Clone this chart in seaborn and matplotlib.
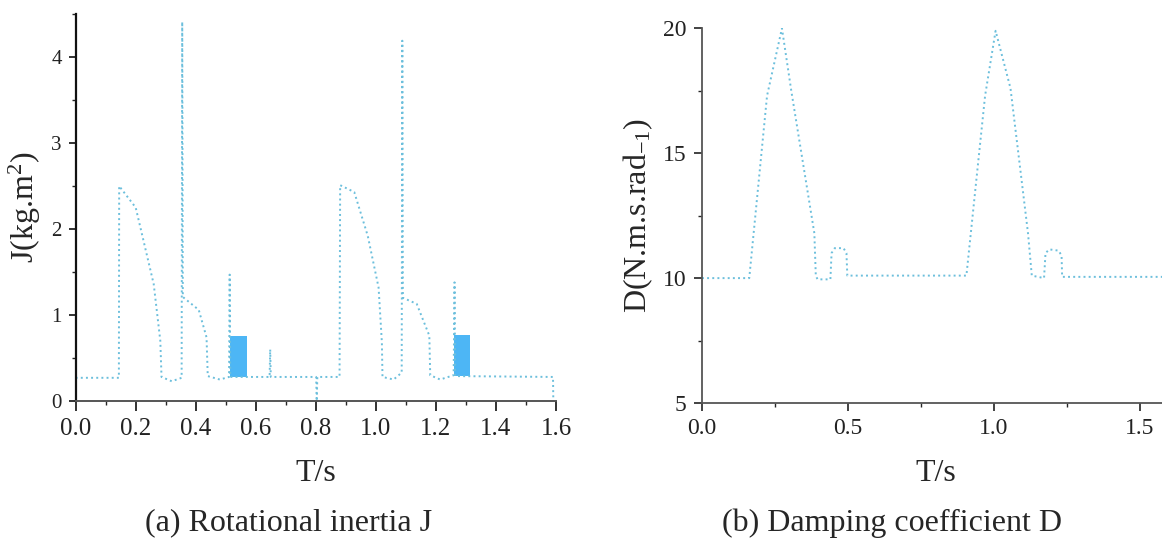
import numpy as np
import pandas as pd
import matplotlib
matplotlib.use('Agg')
import matplotlib.pyplot as plt
import seaborn as sns

# J(t) trace
t_J = [0.0, 0.144, 0.145, 0.200, 0.260, 0.282, 0.286, 0.320, 0.353, 0.355, 0.357,
       0.410, 0.436, 0.440, 0.480, 0.511, 0.513, 0.515, 0.646, 0.648, 0.650, 0.801,
       0.803, 0.805, 0.879, 0.881, 0.928, 0.973, 1.009, 1.020, 1.022, 1.059, 1.086,
       1.088, 1.090, 1.136, 1.178, 1.181, 1.214, 1.259, 1.262, 1.264, 1.590, 1.591]
J = [0.27, 0.27, 2.50, 2.25, 1.36, 0.70, 0.28, 0.23, 0.27, 4.41, 1.21,
     1.06, 0.74, 0.29, 0.25, 0.28, 1.47, 0.28, 0.28, 0.60, 0.28, 0.28,
     0.00, 0.28, 0.28, 2.51, 2.43, 1.92, 1.32, 0.68, 0.28, 0.25, 0.33,
     4.19, 1.20, 1.13, 0.76, 0.30, 0.25, 0.30, 1.38, 0.29, 0.28, 0.00]

# filled blocks in panel (a)
blk_left = [0.515, 1.261]
blk_right = [0.572, 1.314]
blk_bottom = [0.275, 0.293]
blk_top = [0.760, 0.773]

# D(t) trace
t_D = [0.0, 0.162, 0.223, 0.274, 0.306, 0.385, 0.390, 0.396, 0.440, 0.444, 0.455,
       0.485, 0.495, 0.498, 0.906, 0.970, 1.006, 1.057, 1.117, 1.130, 1.172, 1.177,
       1.190, 1.222, 1.232, 1.234, 1.600]
D = [10.0, 10.0, 17.3, 20.0, 17.5, 11.8, 10.1, 9.95, 9.95, 11.0, 11.2,
     11.2, 11.0, 10.1, 10.1, 17.3, 19.9, 17.6, 11.8, 10.1, 10.0, 11.0,
     11.15, 11.1, 10.9, 10.05, 10.05]

df_J = pd.DataFrame({'t': t_J, 'J': J})
df_D = pd.DataFrame({'t': t_D, 'D': D})

sns.set_style('ticks')
plt.rcParams['font.family'] = ['Liberation Serif', 'DejaVu Serif']
plt.rcParams['mathtext.fontset'] = 'custom'
plt.rcParams['mathtext.rm'] = 'Liberation Serif'
plt.rcParams['mathtext.it'] = 'Liberation Serif:italic'

line_col = '#6cbfdc'
fill_col = '#4db6f5'

fig = plt.figure(figsize=(11.62, 5.38), dpi=100)
ax1 = fig.add_axes([0.0651, 0.2546, 0.4134, 0.7193])
ax2 = fig.add_axes([0.6041, 0.2509, 0.4019, 0.6965])

# (a) rotational inertia
sns.lineplot(data=df_J, x='t', y='J', ax=ax1, sort=False, estimator=None,
             color=line_col, linestyle=':', linewidth=1.4)
heights = np.array(blk_top) - np.array(blk_bottom)
widths = np.array(blk_right) - np.array(blk_left)
ax1.bar(blk_left, heights, width=widths, bottom=blk_bottom, align='edge',
        color=fill_col, edgecolor='none')
ax1.set_xlim(0, 1.6)
ax1.set_ylim(0, 4.5)
ax1.set_xticks(np.arange(0, 1.61, 0.2))
ax1.set_xticks(np.arange(0, 1.61, 0.1), minor=True)
ax1.set_yticks([0, 1, 2, 3, 4])
ax1.set_yticks(np.arange(0, 4.51, 0.5), minor=True)
ax1.set_xticklabels([f'{v:.1f}' for v in np.arange(0, 1.61, 0.2)])
ax1.tick_params(axis='x', labelsize=18, length=7, width=1.3, pad=5, colors='#222')
ax1.tick_params(axis='y', labelsize=15, length=5, width=1.3, pad=5, colors='#222')
ax1.tick_params(which='minor', length=3, width=1.0)
ax1.spines['top'].set_visible(False)
ax1.spines['right'].set_visible(False)
ax1.spines['left'].set_color('#111')
ax1.spines['left'].set_linewidth(1.6)
ax1.spines['bottom'].set_color('#555')
ax1.spines['bottom'].set_linewidth(1.4)
ax1.set_xlabel('T/s', fontsize=23, labelpad=14)
ax1.set_ylabel('J(kg.m$^2$)', fontsize=23, labelpad=6)

# (b) damping coefficient
sns.lineplot(data=df_D, x='t', y='D', ax=ax2, sort=False, estimator=None,
             color=line_col, linestyle=':', linewidth=1.4)
ax2.set_xlim(0, 1.6)
ax2.set_ylim(5, 20)
ax2.set_xticks([0, 0.5, 1.0, 1.5])
ax2.set_xticks(np.arange(0, 1.61, 0.25), minor=True)
ax2.set_yticks([5, 10, 15, 20])
ax2.set_yticks(np.arange(5, 20.1, 2.5), minor=True)
ax2.set_xticklabels(['0.0', '0.5', '1.0', '1.5'])
ax2.tick_params(axis='both', labelsize=17, length=6, width=1.2, pad=5, colors='#222')
ax2.tick_params(which='minor', length=3, width=1.0)
ax2.spines['top'].set_visible(False)
ax2.spines['right'].set_visible(False)
for s in ['left', 'bottom']:
    ax2.spines[s].set_color('#555')
    ax2.spines[s].set_linewidth(1.3)
ax2.set_xlabel('T/s', fontsize=23, labelpad=14)
ax2.set_ylabel('D(N.m.s.rad$_{-1}$)', fontsize=23, labelpad=6)

fig.text(0.2487, 0.028, '(a) Rotational inertia J', ha='center', va='center', fontsize=23)
fig.text(0.768, 0.028, '(b) Damping coefficient D', ha='center', va='center', fontsize=23)

fig.savefig('out.png', dpi=100)
